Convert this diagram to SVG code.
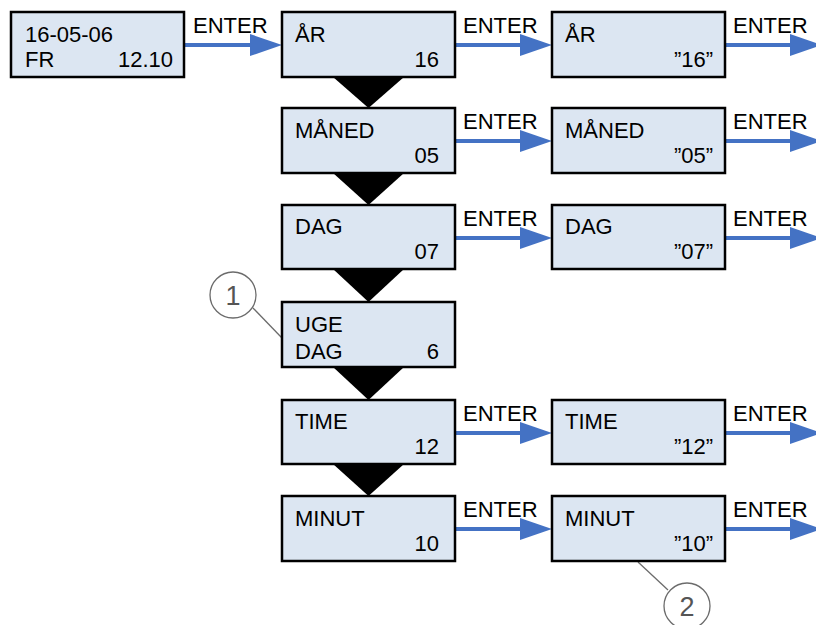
<svg xmlns="http://www.w3.org/2000/svg" width="816" height="625" viewBox="0 0 816 625">
<defs>
<style>
.box{fill:#DCE6F2;stroke:#000;stroke-width:2.5}
.t{font-family:"Liberation Sans",Arial,sans-serif;font-size:22px;fill:#000}
.r{text-anchor:end}
.arr{stroke:#4472C4;stroke-width:4;fill:none}
.head{fill:#4472C4}
.tri{fill:#000}
.call{fill:none;stroke:#6b6b6b;stroke-width:1.3}
.num{font-family:"Liberation Sans",Arial,sans-serif;font-size:27px;fill:#555;text-anchor:middle;font-weight:300}
</style>
<marker id="ah" markerWidth="8" markerHeight="6" refX="8" refY="3" orient="auto" markerUnits="strokeWidth">
<path d="M0,0 L8,3 L0,6 Z" fill="#4472C4"/>
</marker>
</defs>
<rect width="816" height="625" fill="#fff"/>

<g id="connectors">
<!-- triangles -->
<polygon class="tri" points="333,77 404,77 368.5,108"/>
<polygon class="tri" points="333,173 404,173 368.5,205"/>
<polygon class="tri" points="333,269 404,269 368.5,302"/>
<polygon class="tri" points="333,367 404,367 368.5,400"/>
<polygon class="tri" points="333,464 404,464 368.5,496"/>
<!-- arrows -->
<g class="arr">
<line x1="184" y1="45" x2="252" y2="45"/>
<line x1="455" y1="45" x2="522" y2="45"/>
<line x1="725" y1="45" x2="792" y2="45"/>
<line x1="455" y1="141" x2="522" y2="141"/>
<line x1="725" y1="141" x2="792" y2="141"/>
<line x1="455" y1="238" x2="522" y2="238"/>
<line x1="725" y1="238" x2="792" y2="238"/>
<line x1="455" y1="433" x2="522" y2="433"/>
<line x1="725" y1="433" x2="792" y2="433"/>
<line x1="455" y1="529" x2="522" y2="529"/>
<line x1="725" y1="529" x2="792" y2="529"/>
</g>
<g class="head">
<polygon points="250,34 282,45 250,56"/>
<polygon points="520,34 552,45 520,56"/>
<polygon points="790,34 822,45 790,56"/>
<polygon points="520,130 552,141 520,152"/>
<polygon points="790,130 822,141 790,152"/>
<polygon points="520,227 552,238 520,249"/>
<polygon points="790,227 822,238 790,249"/>
<polygon points="520,422 552,433 520,444"/>
<polygon points="790,422 822,433 790,444"/>
<polygon points="520,518 552,529 520,540"/>
<polygon points="790,518 822,529 790,540"/>
</g>
<g class="t">
<text x="193" y="33">ENTER</text>
<text x="463" y="33">ENTER</text>
<text x="733" y="33">ENTER</text>
<text x="463" y="129">ENTER</text>
<text x="733" y="129">ENTER</text>
<text x="463" y="226">ENTER</text>
<text x="733" y="226">ENTER</text>
<text x="463" y="421">ENTER</text>
<text x="733" y="421">ENTER</text>
<text x="463" y="517">ENTER</text>
<text x="733" y="517">ENTER</text>
</g>
<!-- callout lines -->
<line class="call" x1="253" y1="308" x2="282" y2="338"/>
<line class="call" x1="638" y1="562" x2="668" y2="590"/>
</g>

<g id="start">
<rect class="box" x="11" y="12" width="173" height="65"/>
<text class="t" x="25" y="42">16-05-06</text>
<text class="t" x="25" y="67">FR</text>
<text class="t r" x="173" y="67">12.10</text>
</g>

<g id="aar">
<rect class="box" x="282" y="12" width="173" height="65"/>
<text class="t" x="295" y="42">ÅR</text>
<text class="t r" x="439" y="67">16</text>
</g>
<g id="aar2">
<rect class="box" x="552" y="12" width="173" height="65"/>
<text class="t" x="565" y="42">ÅR</text>
<text class="t r" x="713" y="67">”16”</text>
</g>

<g id="maaned">
<rect class="box" x="282" y="108" width="173" height="65"/>
<text class="t" x="295" y="138">MÅNED</text>
<text class="t r" x="439" y="163">05</text>
</g>
<g id="maaned2">
<rect class="box" x="552" y="108" width="173" height="65"/>
<text class="t" x="565" y="138">MÅNED</text>
<text class="t r" x="713" y="163">”05”</text>
</g>

<g id="dag">
<rect class="box" x="282" y="205" width="173" height="64"/>
<text class="t" x="295" y="234">DAG</text>
<text class="t r" x="439" y="259">07</text>
</g>
<g id="dag2">
<rect class="box" x="552" y="205" width="173" height="64"/>
<text class="t" x="565" y="234">DAG</text>
<text class="t r" x="713" y="259">”07”</text>
</g>

<g id="ugedag">
<rect class="box" x="282" y="302" width="173" height="65"/>
<text class="t" x="295" y="332">UGE</text>
<text class="t" x="295" y="359">DAG</text>
<text class="t r" x="439" y="359">6</text>
</g>

<g id="time">
<rect class="box" x="282" y="400" width="173" height="64"/>
<text class="t" x="295" y="429">TIME</text>
<text class="t r" x="439" y="454">12</text>
</g>
<g id="time2">
<rect class="box" x="552" y="400" width="173" height="64"/>
<text class="t" x="565" y="429">TIME</text>
<text class="t r" x="713" y="454">”12”</text>
</g>

<g id="minut">
<rect class="box" x="282" y="496" width="173" height="65"/>
<text class="t" x="295" y="526">MINUT</text>
<text class="t r" x="439" y="551">10</text>
</g>
<g id="minut2">
<rect class="box" x="552" y="496" width="173" height="65"/>
<text class="t" x="565" y="526">MINUT</text>
<text class="t r" x="713" y="551">”10”</text>
</g>

<g id="callout1">
<circle class="call" cx="233" cy="295" r="23"/>
<text class="num" x="233" y="305">1</text>
</g>
<g id="callout2">
<circle class="call" cx="687" cy="606" r="23"/>
<text class="num" x="687" y="616">2</text>
</g>
</svg>
